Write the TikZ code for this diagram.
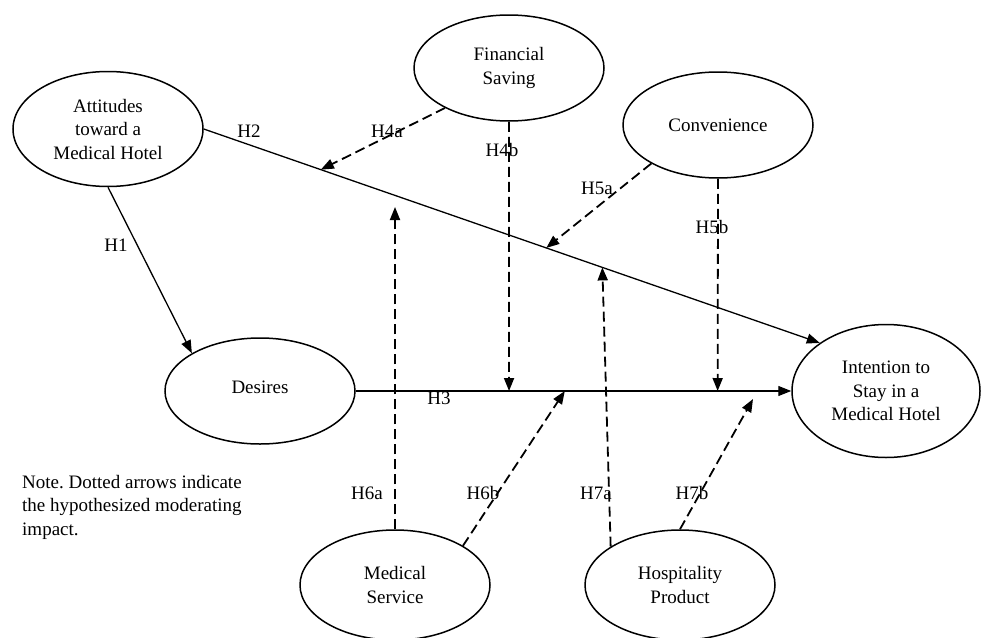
\documentclass[tikz,border=0pt]{standalone}
\usepackage{fontspec}
\setmainfont{Liberation Serif}
\usetikzlibrary{shapes.geometric, arrows.meta}
\frenchspacing

\begin{document}
\begin{tikzpicture}[
    x=1pt, y=-1pt,
    every node/.style={font=\fontsize{19}{23.5}\selectfont},
    construct/.style={ellipse, draw, line width=1.5pt, inner sep=0pt, minimum width=190pt,
                      minimum height=106pt, align=center},
    arrow/.style={-{Triangle[length=13pt, width=10pt]}, line width=1.3pt},
    dasharrow/.style={arrow, line width=1.8pt, dash pattern=on 10pt off 5pt},
    hlabel/.style={inner sep=0pt}
]

\useasboundingbox (0,0) rectangle (984,637);

% Construct nodes
\node[construct, minimum height=115pt] (Att) at (108,129) {Attitudes\\toward a\\Medical Hotel};
\node[construct] (Fin) at (509,68) {Financial\\Saving};
\node[construct] (Con) at (718,125) {Convenience};
\node[construct] (Des) at (260,391) {\raisebox{8pt}{Desires}};
\node[construct, minimum width=188pt, minimum height=133pt] (Int) at (886,391) {Intention to\\Stay in a\\Medical Hotel};
\node[construct, minimum height=110pt] (Med) at (395,585) {Medical\\Service};
\node[construct, minimum height=110pt] (Hos) at (680,585) {Hospitality\\Product};

% Main paths
\draw[arrow] (Att.south) -- (Des.151);
\draw[arrow] (Att.east) -- coordinate[pos=0.19] (m4a) coordinate[pos=0.556] (m5a)
    coordinate[pos=0.647] (m7a) (Int.144);
\draw[arrow] (Des.east) -- coordinate[pos=0.352] (m4b) coordinate[pos=0.48] (m6b)
    coordinate[pos=0.831] (m5b) (Int.west);

% Free ends of moderating arrows
\coordinate (m6a) at (395,207);
\coordinate (m7b) at (753,399);

% Moderating arrows
\draw[dasharrow] (Fin.212) -- (m4a);
\draw[dasharrow] (Fin.south) -- (m4b);
\draw[dasharrow] (Con.210) -- (m5a);
\draw[dasharrow] (Con.south) -- (m5b);
\draw[dasharrow] (Med.north) -- (m6a);
\draw[dasharrow] (Med.30) -- (m6b);
\draw[dasharrow] (Hos.151) -- (m7a);
\draw[dasharrow] (Hos.north) -- (m7b);

% Hypothesis labels
\node[hlabel] (H1) at (116,245) {H1};
\node[hlabel] (H2) at (249,131) {H2};
\node[hlabel] (H3) at (439,398) {H3};
\node[hlabel] (H4a) at (387,131) {H4a};
\node[hlabel] (H4b) at (502,150) {H4b};
\node[hlabel] (H5a) at (597,188) {H5a};
\node[hlabel] (H5b) at (712,227) {H5b};
\node[hlabel] (H6a) at (367,493) {H6a};
\node[hlabel] (H6b) at (483,493) {H6b};
\node[hlabel] (H7a) at (596,493) {H7a};
\node[hlabel] (H7b) at (692,493) {H7b};

% Note
\node[hlabel, anchor=west, align=left] (Note) at (22,507) {Note. Dotted arrows indicate\\the hypothesized moderating\\impact.};

\end{tikzpicture}
\end{document}
